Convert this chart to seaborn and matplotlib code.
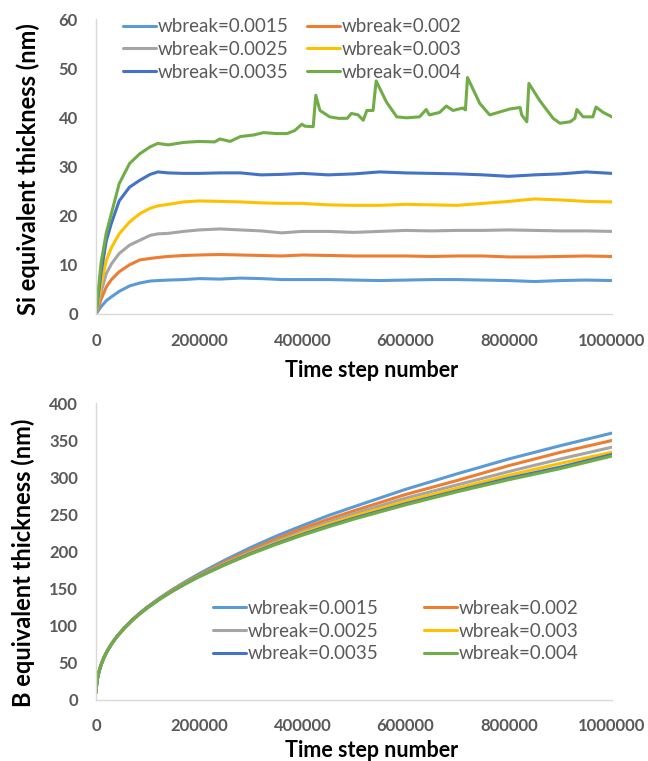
import pandas as pd
import matplotlib
matplotlib.use('Agg')
import matplotlib.pyplot as plt
import matplotlib.ticker as mticker
import seaborn as sns

# series labels and Excel-like colours
labels = ['wbreak=0.0015', 'wbreak=0.002', 'wbreak=0.0025',
          'wbreak=0.003', 'wbreak=0.0035', 'wbreak=0.004']
colors = ['#5B9BD5', '#ED7D31', '#A5A5A5', '#FFC000', '#4472C4', '#70AD47']

# ---- top panel: Si equivalent thickness (nm) ----
t_si = [0, 10000, 20000, 30000, 45000, 65000, 85000, 105000, 120000, 140000,
        170000, 200000, 240000, 280000, 320000, 360000, 400000, 450000, 500000,
        550000, 600000, 650000, 700000, 750000, 800000, 850000, 900000, 950000,
        1000000]
si_0015 = [0, 1.5, 2.7, 3.5, 4.6, 5.7, 6.3, 6.7, 6.8, 6.9, 7.0, 7.2, 7.1, 7.3,
           7.2, 7.0, 7.0, 7.0, 6.9, 6.8, 6.9, 7.0, 7.0, 6.9, 6.8, 6.6, 6.8, 6.9, 6.8]
si_002 = [0, 3.0, 5.5, 7.0, 8.6, 10.0, 11.0, 11.3, 11.5, 11.7, 11.9, 12.0, 12.1,
          12.0, 11.9, 11.8, 12.0, 11.9, 11.8, 11.8, 11.8, 11.7, 11.8, 11.8, 11.6,
          11.6, 11.7, 11.8, 11.7]
si_0025 = [0, 4.5, 8.2, 10.2, 12.3, 14.0, 15.0, 16.0, 16.3, 16.4, 16.8, 17.1,
           17.3, 17.1, 16.9, 16.5, 16.8, 16.8, 16.6, 16.8, 17.0, 16.9, 17.0, 17.0,
           17.1, 17.0, 16.9, 16.9, 16.8]
si_003 = [0, 6.0, 10.9, 13.5, 16.3, 18.7, 20.4, 21.5, 22.0, 22.3, 22.8, 23.0,
          22.9, 22.8, 22.6, 22.5, 22.5, 22.2, 22.1, 22.1, 22.3, 22.2, 22.1, 22.5,
          22.9, 23.4, 23.2, 22.9, 22.8]
si_0035 = [0, 8.5, 14.9, 18.5, 23.0, 25.8, 27.2, 28.4, 28.9, 28.7, 28.6, 28.6,
           28.7, 28.7, 28.3, 28.4, 28.6, 28.3, 28.5, 28.9, 28.7, 28.6, 28.5, 28.3,
           28.0, 28.3, 28.5, 28.9, 28.6]
# green series has spikes, so it gets its own time points
t_si_004 = [0, 10000, 20000, 30000, 45000, 65000, 85000, 105000, 120000, 140000,
            170000, 200000, 230000, 240000, 260000, 280000, 305000, 325000, 350000, 370000,
            385000, 399000, 405000, 421000, 426000, 434000, 453000, 470000, 487000, 495000,
            508000, 518000, 525000, 537000, 543000, 563000, 583000, 602000, 627000, 640000,
            646000, 666000, 679000, 692000, 711000, 716000, 720000, 744000, 763000, 783000,
            802000, 822000, 825000, 835000, 839000, 860000, 886000, 899000, 919000, 928000,
            932000, 944000, 963000, 969000, 983000, 1000000]
si_004 = [0, 10.5, 16.5, 20.5, 26.5, 30.6, 32.6, 34.0, 34.7, 34.4,
          34.9, 35.1, 35.0, 35.6, 35.1, 36.1, 36.4, 36.9, 36.7, 36.7,
          37.3, 38.6, 38.2, 38.1, 44.5, 41.4, 40.1, 39.8, 39.8, 40.8,
          40.5, 39.4, 41.4, 41.4, 47.4, 43.1, 40.1, 39.9, 40.1, 41.6,
          40.5, 41.0, 42.3, 41.4, 41.9, 41.5, 48.1, 42.8, 40.5, 41.1,
          41.7, 42.0, 40.5, 39.1, 46.9, 43.4, 39.8, 38.8, 39.1, 39.8,
          41.6, 40.1, 40.1, 42.1, 41.0, 40.1]

# ---- bottom panel: B equivalent thickness (nm) ----
t_b = [0, 1000, 3000, 6000, 10000, 15000, 22000, 30000, 40000, 55000, 70000,
       85000, 100000, 125000, 150000, 175000, 200000, 250000, 300000, 350000,
       400000, 450000, 500000, 600000, 700000, 800000, 900000, 1000000]
b_0015 = [9, 18, 28.5, 38, 47, 56, 66, 75, 85, 97, 107.5, 117, 125.5, 138,
          149.5, 160, 170, 188.5, 205.5, 221, 235, 248.5, 260.5, 284, 305, 325, 343, 360]
b_002 = [9, 18, 28.5, 38, 47, 56, 66, 75, 84.8, 96.8, 107.2, 116.6, 125, 137.4,
         148.8, 159, 168, 186, 202, 217, 231, 243.5, 255, 277, 296, 316, 334, 350]
b_0025 = [9, 18, 28.5, 38, 47, 56, 65.8, 74.9, 84.6, 96.6, 107, 116.3, 124.6, 137,
          148, 158, 167, 184, 199.5, 214, 227, 239.5, 251, 272, 290, 308, 325, 341]
b_003 = [9, 18, 28.4, 38, 47, 56, 65.7, 74.8, 84.5, 96.5, 106.9, 116, 124.3, 136.6,
         147.5, 157.5, 166.5, 183, 198, 212, 225, 237, 248, 268, 285.5, 303, 319, 334]
b_0035 = [9, 18, 28.4, 38, 47, 56, 65.6, 74.8, 84.4, 96.5, 106.8, 115.9, 124.1, 136.4,
          147.2, 157.1, 166.2, 182.5, 197.3, 210.8, 223, 234.5, 245, 264.5, 282, 299, 314, 331]
b_004 = [9, 18, 28.4, 38, 47, 56, 65.6, 74.8, 84.4, 96.5, 106.7, 115.8, 124, 136.2,
         147, 156.9, 166, 182, 196.7, 209.8, 222, 233.2, 243.8, 263, 280.7, 297, 312, 329]


def long_frame(times, series):
    parts = []
    for lab, tt, vals in zip(labels, times, series):
        parts.append(pd.DataFrame({'t': tt, 'v': vals, 'series': lab}))
    return pd.concat(parts, ignore_index=True)


df_si = long_frame([t_si] * 5 + [t_si_004],
                   [si_0015, si_002, si_0025, si_003, si_0035, si_004])
df_b = long_frame([t_b] * 6, [b_0015, b_002, b_0025, b_003, b_0035, b_004])

sns.set_theme(style='white')
plt.rcParams['font.family'] = ['Lato', 'DejaVu Sans']

palette = dict(zip(labels, colors))
tick_col = '#595959'
spine_col = '#D9D9D9'

fig = plt.figure(figsize=(6.48, 7.61), dpi=100)
ax1 = fig.add_axes([0.1481, 0.5874, 0.7963, 0.3876])
ax2 = fig.add_axes([0.1481, 0.0808, 0.7963, 0.3890])

for ax, df, ymax, ystep in [(ax1, df_si, 60, 10), (ax2, df_b, 400, 50)]:
    sns.lineplot(data=df, x='t', y='v', hue='series', hue_order=labels,
                 palette=palette, estimator=None, errorbar=None,
                 linewidth=2.2, legend=False, ax=ax)
    ax.set_xlim(0, 1000000)
    ax.set_ylim(0, ymax)
    ax.xaxis.set_major_locator(mticker.MultipleLocator(200000))
    ax.yaxis.set_major_locator(mticker.MultipleLocator(ystep))
    ax.xaxis.set_major_formatter(mticker.StrMethodFormatter('{x:.0f}'))
    for s in ['top', 'right']:
        ax.spines[s].set_visible(False)
    for s in ['left', 'bottom']:
        ax.spines[s].set_color(spine_col)
        ax.spines[s].set_linewidth(1.0)
    ax.tick_params(axis='both', which='major', direction='out', length=4,
                   width=1, color=spine_col, labelcolor=tick_col, labelsize=12)
    ax.tick_params(axis='x', pad=9.5)
    ax.tick_params(axis='y', pad=9)
    for lbl in ax.get_xticklabels() + ax.get_yticklabels():
        lbl.set_fontweight('bold')
    ax.grid(False)

lab_kw = dict(fontweight='bold', color='black')
ax1.set_xlabel('Time step number', fontsize=15.5, **lab_kw)
ax2.set_xlabel('Time step number', fontsize=15.5, **lab_kw)
ax1.set_ylabel('Si equivalent thickness (nm)', fontsize=17, **lab_kw)
ax2.set_ylabel('B equivalent thickness (nm)', fontsize=17, **lab_kw)
ax1.xaxis.set_label_coords(0.535, -0.155)
ax2.xaxis.set_label_coords(0.535, -0.136)
ax1.yaxis.set_label_coords(-0.108, 0.49)
ax2.yaxis.set_label_coords(-0.118, 0.462)

# Excel fills the legend row by row
order = [0, 2, 4, 1, 3, 5]
leg_kw = dict(ncol=2, frameon=False, fontsize=13.5, handlelength=1.75,
              handletextpad=0.1, labelspacing=0.3, borderpad=0,
              borderaxespad=0, labelcolor=tick_col,
              bbox_transform=fig.transFigure, loc='upper left')
ax1.legend([ax1.lines[i] for i in order], [labels[i] for i in order],
           bbox_to_anchor=(0.19, 0.976), columnspacing=1.0, **leg_kw)
ax2.legend([ax2.lines[i] for i in order], [labels[i] for i in order],
           bbox_to_anchor=(0.329, 0.2115), columnspacing=2.4, **leg_kw)

fig.savefig('out.png', dpi=100)
